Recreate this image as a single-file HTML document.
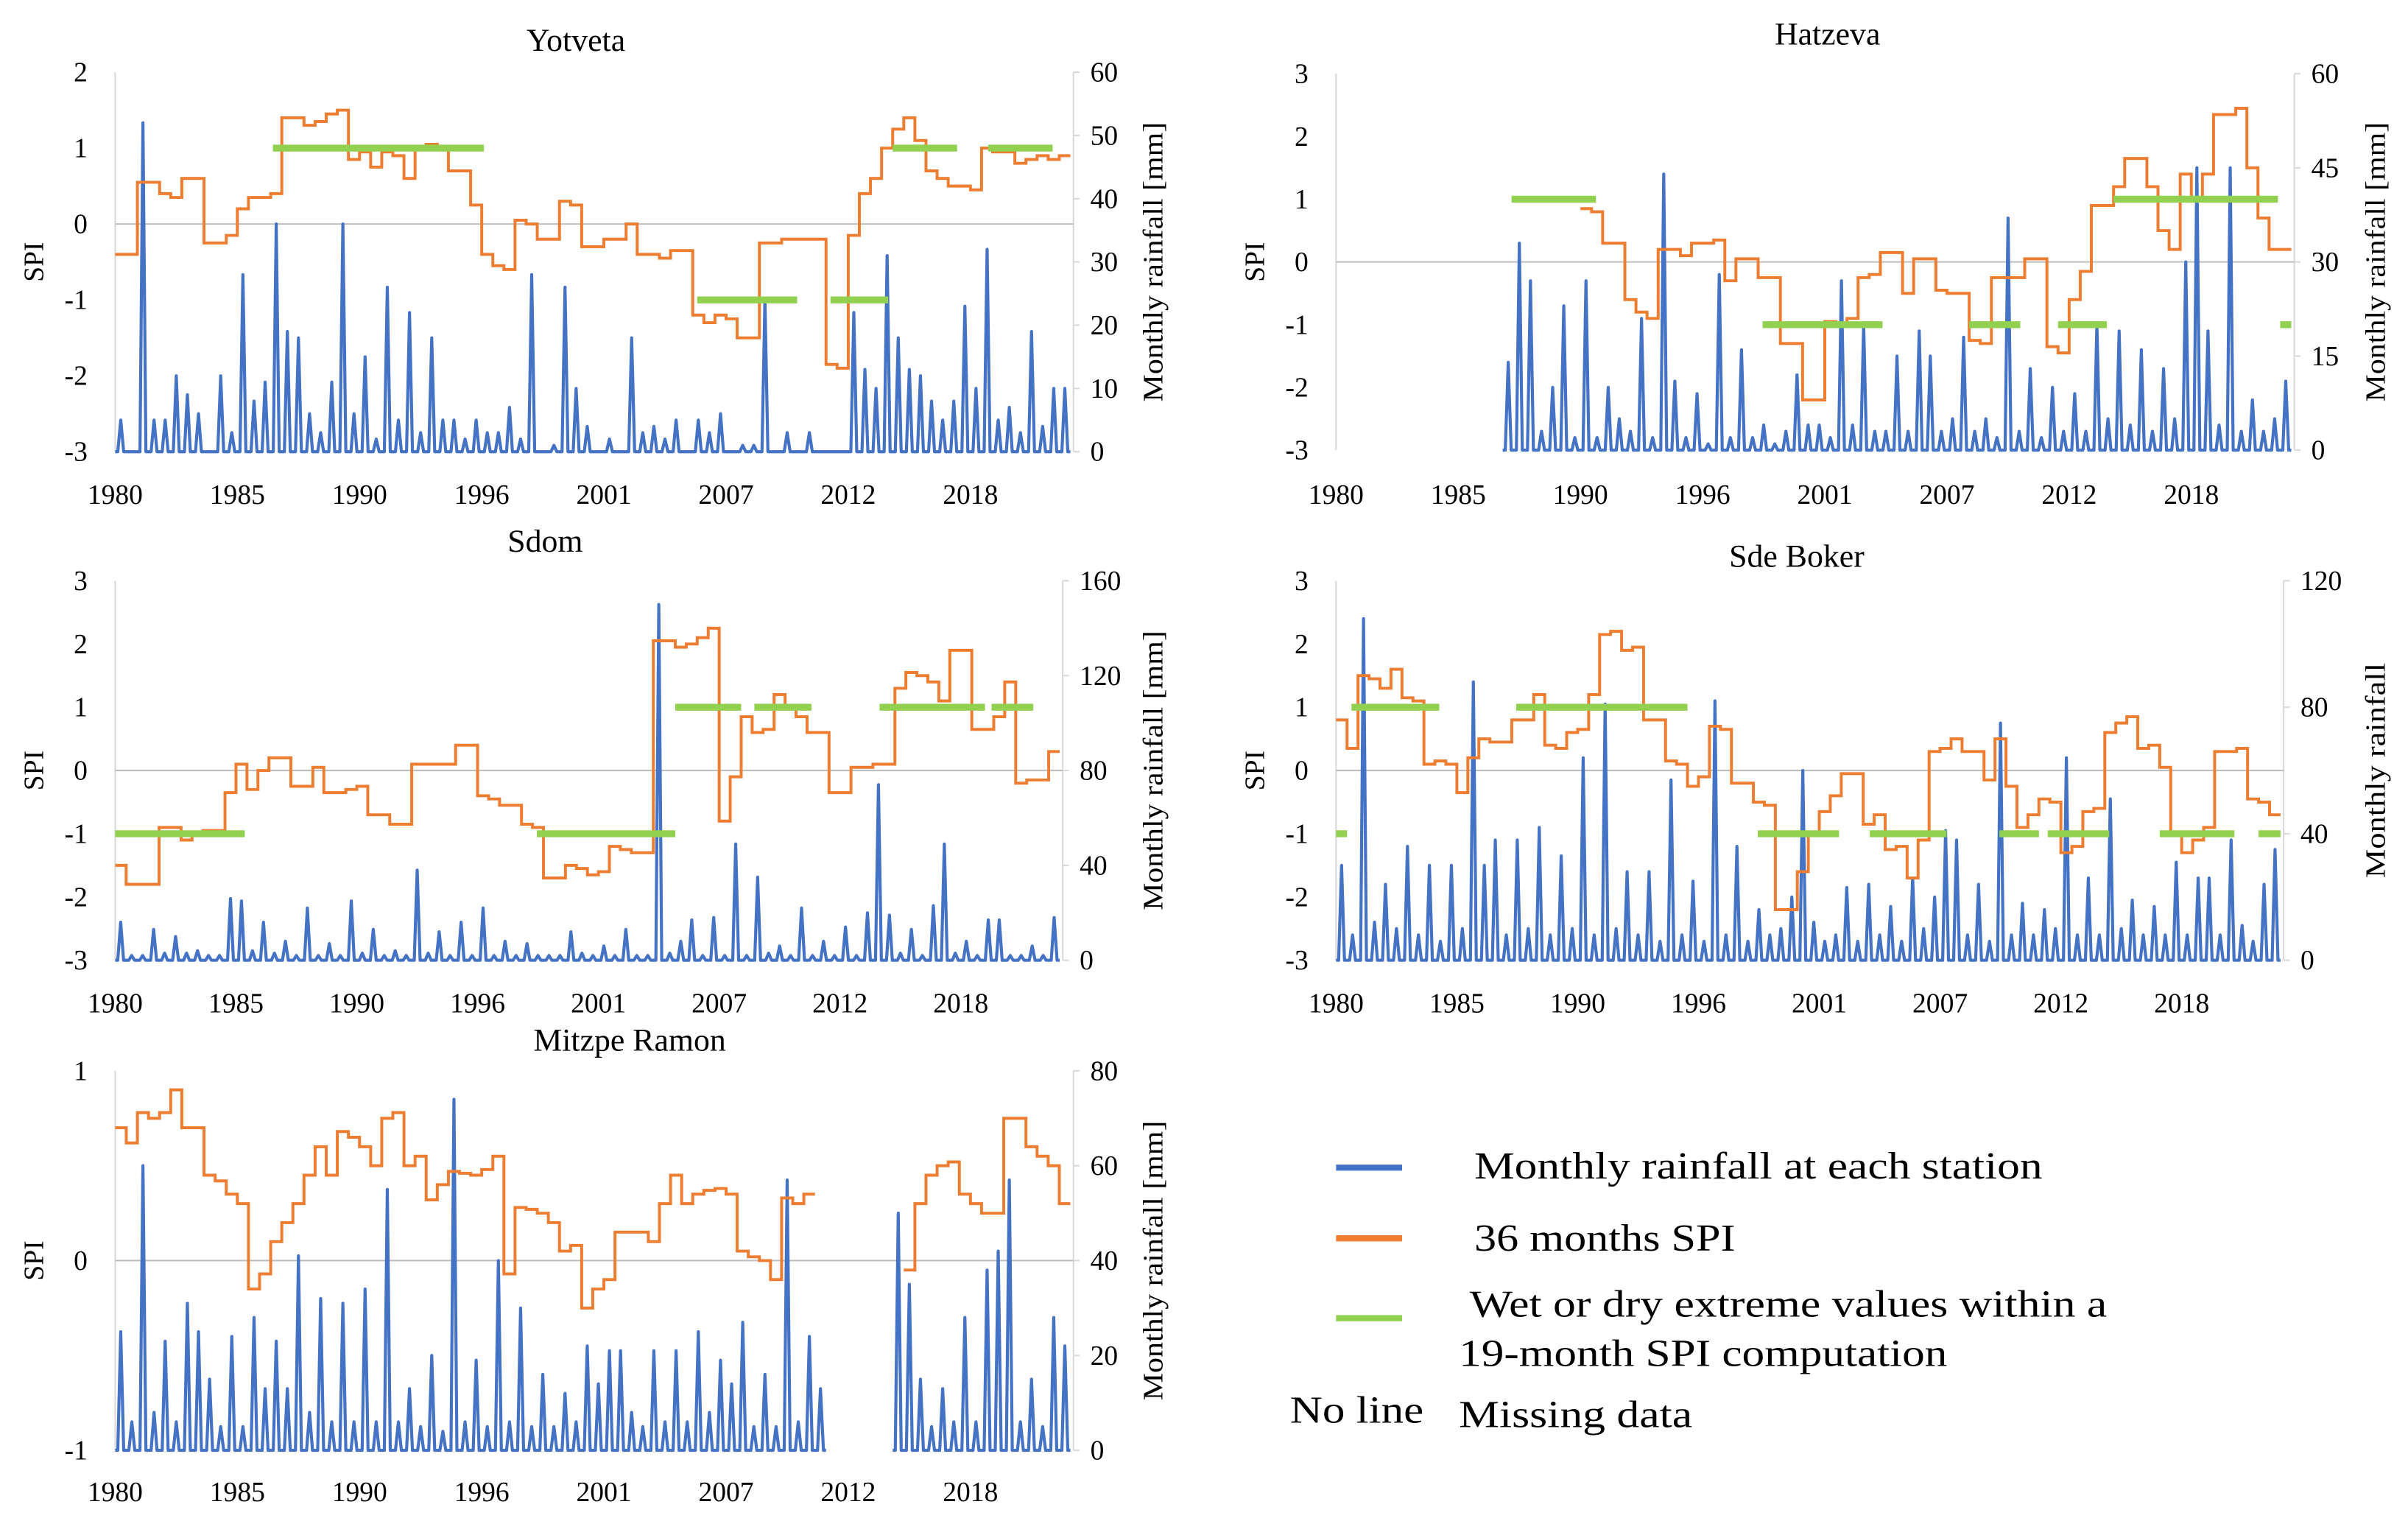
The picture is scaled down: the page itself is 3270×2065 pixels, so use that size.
<!DOCTYPE html>
<html><head><meta charset="utf-8">
<style>
html,body{margin:0;padding:0;background:#fff;}
svg{display:block;}
text{font-family:"Liberation Serif",serif;fill:#000;}
</style></head>
<body>
<svg id="fig" width="3270" height="2065" viewBox="0 0 1568 990" preserveAspectRatio="none" xmlns="http://www.w3.org/2000/svg">
<rect x="0" y="0" width="1568" height="990" fill="#fff"/>
<g>
 <line x1="870" y1="760" x2="913" y2="760" stroke="#4472C4" stroke-width="4"/>
 <text x="960" y="767" font-size="25" textLength="370" lengthAdjust="spacingAndGlyphs">Monthly rainfall at each station</text>
 <line x1="870" y1="806" x2="913" y2="806" stroke="#ED7D31" stroke-width="4"/>
 <text x="960" y="814" font-size="25" textLength="170" lengthAdjust="spacingAndGlyphs">36 months SPI</text>
 <line x1="870" y1="858" x2="913" y2="858" stroke="#92D050" stroke-width="4"/>
 <text x="957" y="857" font-size="25" textLength="415" lengthAdjust="spacingAndGlyphs">Wet or dry extreme values within a</text>
 <text x="950" y="889" font-size="25" textLength="318" lengthAdjust="spacingAndGlyphs">19-month SPI computation</text>
 <text x="840" y="926" font-size="25" textLength="87" lengthAdjust="spacingAndGlyphs">No line</text>
 <text x="950" y="929" font-size="25" textLength="152" lengthAdjust="spacingAndGlyphs">Missing data</text>
</g>
</svg>
<script>
// x-axis category labels (every 66 months)
const xLabels = ["1980","1985","1990","1996","2001","2007","2012","2018"];

// Half-year samples starting 1980
const yotvetaSpi = [-0.4,-0.4,0.55,0.55,0.4,0.35,0.6,0.6,-0.25,-0.25,-0.15,0.2,0.35,0.35,0.4,1.4,1.4,1.3,1.35,1.45,1.5,0.85,0.95,0.75,0.95,0.9,0.6,1.0,1.05,1.0,0.7,0.7,0.25,-0.4,-0.55,-0.6,0.05,0.0,-0.2,-0.2,0.3,0.25,-0.3,-0.3,-0.2,-0.2,0.0,-0.4,-0.4,-0.45,-0.35,-0.35,-1.2,-1.3,-1.2,-1.25,-1.5,-1.5,-0.25,-0.25,-0.2,-0.2,-0.2,-0.2,-1.85,-1.9,-0.15,0.4,0.6,1.0,1.25,1.4,1.1,0.7,0.6,0.5,0.5,0.45,1.0,0.95,0.95,0.8,0.85,0.9,0.85,0.9];
const yotvetaRain = [5,0,52,5,5,12,9,6,0,12,3,28,8,11,36,19,18,6,3,11,36,6,15,2,26,5,22,3,18,5,5,2,5,3,3,7,2,28,0,1,26,10,4,0,2,0,18,3,4,2,5,0,5,3,6,0,1,1,24,0,3,0,3,0,0,0,22,13,10,31,18,13,12,8,5,8,23,10,32,5,7,3,19,4,10,10];
const yotvetaExtStart = [1987.1,2006.2,2012.2,2015.0,2019.3];
const yotvetaExtEnd = [1996.6,2010.7,2014.8,2017.9,2022.2];
const yotvetaExtVal = [1,-1,-1,1,1];

const hatzevaSpi = [null,null,null,null,null,null,null,null,null,null,null,null,null,null,null,null,null,null,null,null,null,null,
0.85,0.8,0.3,0.3,-0.6,-0.8,-0.9,0.2,0.2,0.1,0.3,0.3,0.35,-0.3,0.05,0.05,-0.25,-0.25,-1.3,-1.3,-2.2,-2.2,-0.95,-1.0,-0.9,-0.25,-0.2,0.15,0.15,-0.5,0.05,0.05,-0.45,-0.5,-0.5,-1.25,-1.3,-0.25,-0.25,-0.25,0.05,0.05,-1.35,-1.45,-0.6,-0.15,0.9,0.9,1.2,1.65,1.65,1.2,0.5,0.2,1.4,1.0,1.4,2.35,2.35,2.45,1.5,0.7,0.2,0.2];
const hatzevaRain = [null,null,null,null,null,null,null,null,null,null,null,null,null,null,null,
14,33,27,3,10,23,2,27,2,10,5,3,21,2,44,11,2,9,1,28,2,16,2,4,1,3,12,4,4,2,27,4,20,3,3,15,3,19,15,3,5,18,3,5,2,37,3,13,2,10,3,9,3,20,5,19,4,16,3,13,5,30,45,19,4,45,3,8,3,5,11];
const hatzevaExtStart = [1987.9,1999.2,2008.5,2012.5,2015.0,2022.5];
const hatzevaExtEnd = [1991.7,2004.6,2010.8,2014.7,2022.4,2023.0];
const hatzevaExtVal = [1,-1,-1,-1,1,-1];

const sdomSpi = [-1.5,-1.8,-1.8,-1.8,-0.9,-0.9,-1.1,-1.0,-0.95,-0.95,-0.35,0.1,-0.3,0.0,0.2,0.2,-0.25,-0.25,0.05,-0.35,-0.35,-0.3,-0.25,-0.7,-0.7,-0.85,-0.85,0.1,0.1,0.1,0.1,0.4,0.4,-0.4,-0.45,-0.55,-0.55,-0.85,-0.9,-1.7,-1.7,-1.5,-1.55,-1.65,-1.6,-1.2,-1.25,-1.3,-1.3,2.05,2.05,1.95,2.0,2.1,2.25,-0.8,-0.1,0.85,0.6,0.65,1.2,1.0,0.85,0.6,0.6,-0.35,-0.35,0.05,0.05,0.1,0.1,1.3,1.55,1.5,1.4,1.1,1.9,1.9,0.65,0.65,0.85,1.4,-0.2,-0.15,-0.15,0.3];
const sdomRain = [16,2,2,13,3,10,3,4,2,2,26,25,4,16,3,8,2,22,2,7,2,25,3,13,2,4,2,38,3,12,2,16,2,22,2,8,2,7,2,2,2,12,3,2,6,2,13,2,2,150,3,8,17,2,18,2,49,2,35,3,6,2,22,2,8,2,14,2,20,74,19,3,13,2,23,49,3,8,2,17,17,2,2,6,2,18];
const sdomExtStart = [1980.0,1999.2,2005.5,2009.1,2014.8,2019.9];
const sdomExtEnd = [1985.9,2005.5,2008.5,2011.7,2019.6,2021.8];
const sdomExtVal = [-1,-1,1,1,1,1];

const sdeBokerSpi = [0.8,0.35,1.5,1.45,1.3,1.6,1.15,1.1,0.1,0.15,0.1,-0.35,0.2,0.5,0.45,0.45,0.8,0.8,1.2,0.4,0.35,0.6,0.65,1.2,2.15,2.2,1.9,1.95,0.8,0.8,0.15,0.1,-0.25,-0.1,0.7,0.65,-0.2,-0.2,-0.5,-0.55,-2.2,-2.2,-1.6,-1.0,-0.65,-0.4,-0.05,-0.05,-0.85,-0.7,-1.25,-1.2,-1.7,-1.1,0.3,0.35,0.5,0.3,0.3,-0.15,0.5,-0.25,-0.9,-0.7,-0.45,-0.5,-1.3,-1.2,-0.65,-0.6,0.6,0.75,0.85,0.35,0.4,0.05,-1.0,-1.3,-1.1,-0.9,0.3,0.3,0.35,-0.45,-0.5,-0.7];
const sdeBokerRain = [30,8,108,12,24,10,36,8,30,6,30,10,88,30,38,8,38,10,42,8,33,10,64,8,81,10,28,8,28,6,57,8,25,6,82,8,36,6,16,8,10,20,60,12,6,8,23,6,24,8,17,6,26,10,20,41,38,8,24,6,75,8,18,8,16,10,64,8,26,8,51,10,19,8,17,8,31,8,26,26,8,38,11,6,24,35];
const sdeBokerExtStart = [1980.0,1980.7,1988.2,1999.2,2004.3,2010.2,2012.4,2017.5,2022.0];
const sdeBokerExtEnd = [1980.5,1984.7,1996.0,2002.9,2007.8,2012.0,2015.2,2020.9,2023.0];
const sdeBokerExtVal = [-1,1,1,-1,-1,-1,-1,-1,-1];

const mitzpeSpi = [0.7,0.62,0.78,0.75,0.78,0.9,0.7,0.7,0.45,0.42,0.35,0.3,-0.15,-0.07,0.1,0.2,0.3,0.45,0.6,0.45,0.68,0.65,0.6,0.5,0.75,0.78,0.5,0.55,0.32,0.4,0.47,0.46,0.45,0.48,0.55,-0.07,0.28,0.27,0.25,0.2,0.05,0.08,-0.25,-0.15,-0.1,0.15,0.15,0.15,0.1,0.3,0.45,0.3,0.35,0.37,0.38,0.35,0.05,0.02,0.0,-0.1,0.33,0.3,0.35,null,null,null,null,null,null,null,null,-0.05,0.3,0.45,0.5,0.52,0.35,0.3,0.25,0.25,0.75,0.75,0.6,0.55,0.5,0.3];
const mitzpeRain = [25,6,60,8,23,6,31,25,15,5,24,5,28,13,23,13,41,8,32,6,31,6,34,6,55,6,13,5,20,4,74,6,19,5,40,6,30,5,16,5,12,6,22,14,21,21,8,5,21,6,21,6,25,8,19,14,27,5,16,5,57,6,24,13,null,null,null,null,null,null,50,35,15,5,13,6,28,6,38,42,57,6,15,5,28,22];

const NS="http://www.w3.org/2000/svg";
const svg=document.getElementById('fig');
const TOTAL=516;

function mk(tag,attrs,parent){const e=document.createElementNS(NS,tag);for(const k in attrs)e.setAttribute(k,attrs[k]);parent.appendChild(e);return e;}

function drawPanel(p){
  const g=mk('g',{},svg);
  
  
  const xs=m=>p.x0+(p.x1-p.x0)*m/TOTAL;
  const yl=v=>p.bot-(v-p.lmin)/(p.lmax-p.lmin)*(p.bot-p.top);
  const yr=v=>p.bot-v/p.rmax*(p.bot-p.top);
  const t=mk('text',{x:p.tx,y:p.ty,'font-size':21,'text-anchor':'middle'},g);t.textContent=p.title;
  
  
  const la=mk('line',{x1:p.x0,y1:p.top,x2:p.x0,y2:p.bot,stroke:'#d9d9d9','stroke-width':1},g);
  
  
  const ra=mk('line',{x1:p.x1+2,y1:p.top,x2:p.x1+2,y2:p.bot,stroke:'#d9d9d9','stroke-width':1},g);
  
  
  p.lticks.forEach(v=>{
    const e=mk('text',{x:p.x0-18,y:yl(v)+6,'font-size':18,'text-anchor':'end'},g);e.textContent=String(v);
    
    
  });
  for(let v=0;v<=p.rmax;v+=p.rstep){
    const tk=mk('line',{x1:p.x1+2,y1:yr(v),x2:p.x1+6,y2:yr(v),stroke:'#d9d9d9'},g);
    
    
    const e=mk('text',{x:p.x1+13,y:yr(v)+6,'font-size':18},g);e.textContent=String(v);
    
    
  }
  xLabels.forEach((l,k)=>{
    const e=mk('text',{x:xs(k*66),y:p.xly,'font-size':18,'text-anchor':'middle'},g);e.textContent=l;
    
    
  });
  const cy=(p.top+p.bot)/2;
  const st=mk('text',{x:p.sx,y:cy,'font-size':18,'text-anchor':'middle',transform:`rotate(-90 ${p.sx} ${cy})`},g);st.textContent='SPI';
  
  
  const rt=mk('text',{x:p.rx,y:cy,'font-size':18,'text-anchor':'middle',textLength:p.rlen,lengthAdjust:'spacingAndGlyphs',transform:`rotate(-90 ${p.rx} ${cy})`},g);rt.textContent=p.rtitle;
  
  
  const zl=mk('line',{x1:p.x0,y1:yl(0),x2:p.x1+2,y2:yl(0),stroke:'#bfbfbf','stroke-width':1},g);
  
  
  let d='',pen=false;
  p.rain.forEach((v,i)=>{
    if(v===null){pen=false;return;}
    const m=i*6;
    const pts=[[m,0],[m+1.4,0],[m+3,v],[m+4.6,0],[m+6,0]];
    pts.forEach(([mm,vv])=>{const mc=Math.min(mm,TOTAL);d+=(pen?'L':'M')+xs(mc).toFixed(2)+' '+yr(vv).toFixed(2)+' ';pen=true;});
  });
  const rp=mk('path',{d:d,fill:'none',stroke:'#4472C4','stroke-width':2,'stroke-linejoin':'round'},g);
  
  
  d='';pen=false;
  p.spi.forEach((v,i)=>{
    if(v===null){pen=false;return;}
    const m=i*6;
    d+=(pen?'L':'M')+xs(m).toFixed(2)+' '+yl(v).toFixed(2)+' L'+xs(Math.min(m+6,TOTAL)).toFixed(2)+' '+yl(v).toFixed(2)+' ';pen=true;
  });
  const sp=mk('path',{d:d,fill:'none',stroke:'#ED7D31','stroke-width':1.9},g);
  
  
  if(p.es){p.es.forEach((s,i)=>{
    const e=mk('line',{x1:xs((s-1980)*12),y1:yl(p.ev[i]),x2:xs(Math.min((p.ee[i]-1980)*12,TOTAL)),y2:yl(p.ev[i]),stroke:'#92D050','stroke-width':4.5},g);
    
    
  });}
}

drawPanel({key:'yotveta',title:'Yotveta',tx:375,ty:33,x0:75,x1:697,top:47,bot:294,lmin:-3,lmax:2,lticks:[-3,-2,-1,0,1,2],rmax:60,rstep:10,xly:328,sx:28,rx:757,rtitle:'Monthly rainfall [mm]',rlen:182,spi:yotvetaSpi,rain:yotvetaRain,es:yotvetaExtStart,ee:yotvetaExtEnd,ev:yotvetaExtVal});
drawPanel({key:'hatzeva',title:'Hatzeva',tx:1190,ty:29,x0:870,x1:1492,top:48,bot:293,lmin:-3,lmax:3,lticks:[-3,-2,-1,0,1,2,3],rmax:60,rstep:15,xly:328,sx:823,rx:1553,rtitle:'Monthly rainfall [mm]',rlen:182,spi:hatzevaSpi,rain:hatzevaRain,es:hatzevaExtStart,ee:hatzevaExtEnd,ev:hatzevaExtVal});
drawPanel({key:'sdom',title:'Sdom',tx:355,ty:359,x0:75,x1:690,top:378,bot:625,lmin:-3,lmax:3,lticks:[-3,-2,-1,0,1,2,3],rmax:160,rstep:40,xly:659,sx:28,rx:757,rtitle:'Monthly rainfall [mm]',rlen:182,spi:sdomSpi,rain:sdomRain,es:sdomExtStart,ee:sdomExtEnd,ev:sdomExtVal});
drawPanel({key:'sde-boker',title:'Sde Boker',tx:1170,ty:369,x0:870,x1:1485,top:378,bot:625,lmin:-3,lmax:3,lticks:[-3,-2,-1,0,1,2,3],rmax:120,rstep:40,xly:659,sx:823,rx:1553,rtitle:'Monthly rainfall',rlen:140,spi:sdeBokerSpi,rain:sdeBokerRain,es:sdeBokerExtStart,ee:sdeBokerExtEnd,ev:sdeBokerExtVal});
drawPanel({key:'mitzpe-ramon',title:'Mitzpe Ramon',tx:410,ty:684,x0:75,x1:697,top:697,bot:944,lmin:-1,lmax:1,lticks:[-1,0,1],rmax:80,rstep:20,xly:977,sx:28,rx:757,rtitle:'Monthly rainfall [mm]',rlen:182,spi:mitzpeSpi,rain:mitzpeRain});
</script>
</body></html>
